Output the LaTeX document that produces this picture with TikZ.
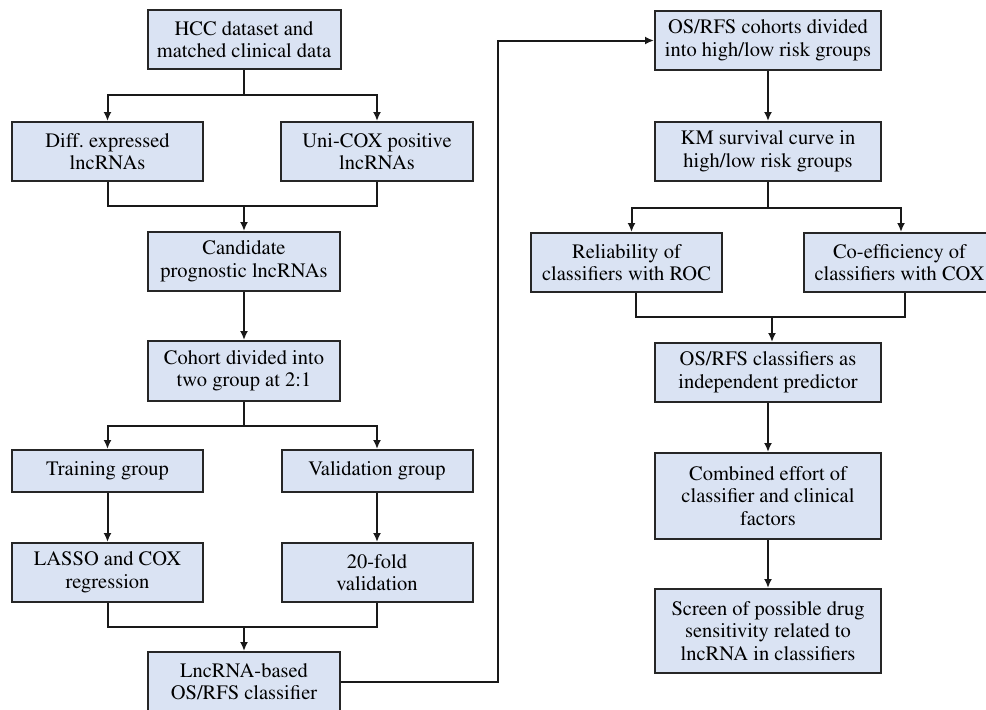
\documentclass[tikz,border=0pt]{standalone}
\usepackage[T1]{fontenc}
\usepackage{mathptmx}
\usetikzlibrary{arrows.meta}
\definecolor{boxblue}{RGB}{218,227,243}
\begin{document}
\begin{tikzpicture}[x=1pt, y=-1pt,
        box/.style={draw=black!85, fill=boxblue, line width=2pt, align=center,
            font=\fontsize{20.5}{22.5}\selectfont, inner sep=2pt, minimum height=59pt},
        link/.style={line width=2pt, black!90},
        arr/.style={link, -{Latex[length=9pt, width=8pt]}}]
        \useasboundingbox (0,0) rectangle (986,710);

        % left column
        \node[box, minimum width=193pt] (hcc) at (244,39.5) {HCC dataset and\\matched clinical data};
        \node[box, minimum width=191pt] (diff) at (107.5,151.5) {Diff.\ expressed\\lncRNAs};
        \node[box, minimum width=192pt] (unicox) at (377,151.5) {Uni-COX positive\\lncRNAs};
        \node[box, minimum width=192pt] (cand) at (244,261.5) {Candidate\\prognostic lncRNAs};
        \node[box, minimum width=192pt, minimum height=60pt] (cohort) at (244,371) {Cohort divided into\\two group at 2:1};
        \node[box, minimum width=191pt, minimum height=42pt] (train) at (107.5,471) {Training group};
        \node[box, minimum width=191pt, minimum height=42pt] (valid) at (377,471) {Validation group};
        \node[box, minimum width=191pt] (lasso) at (107.5,572.5) {LASSO and COX\\regression};
        \node[box, minimum width=191pt] (fold) at (377,572.5) {20-fold\\validation};
        \node[box, minimum width=192pt] (lnc) at (244,681.5) {LncRNA-based\\OS/RFS classifier};

        % right column
        \node[box, minimum width=226pt] (risk) at (768,40.5) {OS/RFS cohorts divided\\into high/low risk groups};
        \node[box, minimum width=226pt] (km) at (768,151.5) {KM survival curve in\\high/low risk groups};
        \node[box, minimum width=191pt] (roc) at (626.5,262.5) {Reliability of\\classifiers with ROC};
        \node[box, minimum width=191pt] (coef) at (899.5,262.5) {Co-efficiency of\\classifiers with COX};
        \node[box, minimum width=226pt] (indep) at (768,372.5) {OS/RFS classifiers as\\independent predictor};
        \node[box, minimum width=226pt, minimum height=86pt] (comb) at (768,496) {Combined effort of\\classifier and clinical\\factors};
        \node[box, minimum width=226pt, minimum height=84pt] (screen) at (768,631) {Screen of possible drug\\sensitivity related to\\lncRNA in classifiers};

        % split and join points
        \coordinate (s1) at (244,95);
        \coordinate (j1) at (244,206);
        \coordinate (s2) at (244,426);
        \coordinate (j2) at (244,627);
        \coordinate (s3) at (768,208);
        \coordinate (j3) at (772,317);
        \coordinate (up) at (498,681.5);
        \coordinate (top) at (498,40.5);

        % Arrows
        \draw[link] (hcc) -- (s1);
        \draw[arr] (s1) -| (diff);
        \draw[arr] (s1) -| (unicox);
        \draw[link] (diff) |- (j1) -| (unicox);
        \draw[arr] (j1) -- (cand);
        \draw[arr] (cand) -- (cohort);
        \draw[link] (cohort) -- (s2);
        \draw[arr] (s2) -| (train);
        \draw[arr] (s2) -| (valid);
        \draw[arr] (train) -- (lasso);
        \draw[arr] (valid) -- (fold);
        \draw[link] (lasso) |- (j2) -| (fold);
        \draw[arr] (j2) -- (lnc);
        \draw[arr] (lnc) -- (up) -- (top) -- (risk);
        \draw[arr] (risk) -- (km);
        \draw[link] (km) -- (s3);
        \draw[arr] (s3) -| ([xshift=5pt]roc.north);
        \draw[arr] (s3) -| ([xshift=1.5pt]coef.north);
        \draw[link] ([xshift=9pt]roc.south) |- (j3) -| ([xshift=5.5pt]coef.south);
        \draw[arr] (j3) -- (j3 |- indep.north);
        \draw[arr] (indep) -- (comb);
        \draw[arr] (comb) -- (screen);
    \end{tikzpicture}
\end{document}
